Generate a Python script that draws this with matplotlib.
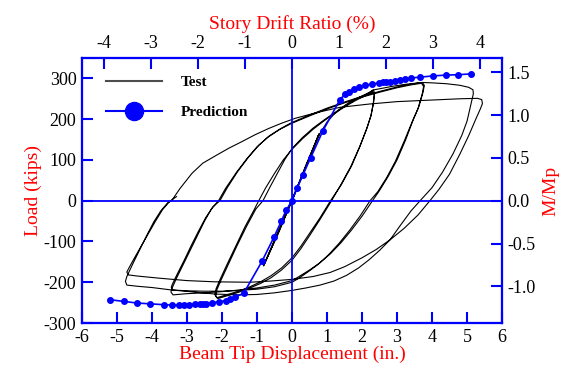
import matplotlib
matplotlib.use("Agg")
import matplotlib.pyplot as plt
from matplotlib.lines import Line2D

plt.rcParams['font.family'] = 'Liberation Serif'
plt.rcParams['axes.unicode_minus'] = False

# --- data: (beam tip displacement in., load kips) ---
elastic_disp = [0, 0.4, 0.75, 0.4, 0, -0.4, -0.8, -0.4, 0, 0.4, 0.78, 0.4, 0, -0.4, -0.82, -0.4, 0]
elastic_load = [0, 85, 160, 82, 2, -78, -158, -80, 0, 88, 165, 85, 4, -76, -160, -82, 0]

a1_disp = [0, 0.4, 0.8, 1.0, 1.2, 1.4, 1.6, 1.8, 2.0, 2.2, 2.32, 2.36,
           2.33, 2.26, 2.15, 1.95, 1.7, 1.4, 1.1, 0.8, 0.5, 0.25, 0, -0.3, -0.6, -0.9, -1.2,
           -1.5, -1.8, -2.0, -2.15, -2.2, -2.17,
           -2.05, -1.85, -1.6, -1.35, -1.1, -0.95, -0.75, -0.5, -0.25, 0, 0.3, 0.6, 0.9, 1.2,
           1.5, 1.8, 2.1, 2.3, 2.35]
a1_load = [0, 85, 165, 193, 212, 227, 239, 249, 257, 265, 272, 264,
           240, 210, 180, 135, 85, 38, 0, -42, -80, -112, -140, -165, -184, -199, -211,
           -221, -229, -234, -238, -231, -216,
           -192, -155, -110, -65, -25, 0, 32, 67, 100, 126, 152, 175, 195, 213,
           230, 245, 258, 267, 262]

a2_disp = [2.32, 2.25, 2.13, 1.93, 1.68, 1.4, 1.13, 0.8, 0.5, 0.25, 0, -0.3, -0.6, -0.9,
           -1.2, -1.5, -1.8, -2.0, -2.12, -2.18, -2.15,
           -2.03, -1.83, -1.58, -1.3, -1.03, -0.83, -0.62, -0.4, -0.2, 0, 0.3, 0.6, 0.9, 1.2,
           1.5, 1.8, 2.1, 2.35]
a2_load = [238, 207, 176, 132, 84, 40, 0, -46, -86, -118, -146, -170, -189, -203,
           -214, -224, -232, -237, -240, -233, -219,
           -195, -158, -112, -63, -20, 0, 35, 70, 102, 128, 155, 178, 197, 215,
           232, 247, 260, 272]

b1_disp = [2.6, 2.9, 3.2, 3.5, 3.72, 3.78,
           3.74, 3.62, 3.46, 3.25, 3.0, 2.75, 2.5, 2.3, 2.0, 1.7, 1.4, 1.1, 0.8, 0.5, 0.2, 0,
           -0.5, -1.0, -1.5, -2.0, -2.5, -3.0, -3.4, -3.46, -3.43,
           -3.3, -3.1, -2.9, -2.7, -2.5, -2.3, -2.1, -1.9, -1.6, -1.3, -1.0, -0.7, -0.35, 0,
           0.5, 1.0, 1.5, 2.0, 2.5, 3.0, 3.4, 3.7, 3.76]
b1_load = [276, 281, 285, 288, 290, 283,
           265, 230, 198, 150, 100, 60, 25, 0, -38, -72, -103, -130, -152, -170, -186, -196,
           -207, -214, -219, -223, -226, -228, -231, -224, -215,
           -190, -155, -120, -85, -50, -20, 0, 30, 68, 102, 132, 155, 175, 190,
           208, 225, 240, 254, 266, 277, 284, 288, 280]

b2_disp = [3.72, 3.6, 3.43, 3.2, 2.95, 2.7, 2.45, 2.23, 1.95, 1.65, 1.35, 1.05, 0.75, 0.45,
           0.2, 0, -0.5, -1.0, -1.5, -2.0, -2.5, -3.0, -3.42, -3.45, -3.42,
           -3.28, -3.08, -2.88, -2.68, -2.47, -2.26, -2.06, -1.85, -1.55, -1.25, -0.95, -0.65,
           -0.3, 0, 0.5, 1.0, 1.5, 2.0, 2.5, 3.0, 3.4, 3.72]
b2_load = [262, 226, 193, 145, 96, 56, 22, 0, -37, -72, -104, -132, -156, -175,
           -190, -200, -211, -217, -220, -222, -222, -221, -219, -212, -205,
           -180, -146, -110, -76, -42, -15, 0, 32, 72, 106, 136, 159, 178, 192,
           210, 227, 242, 256, 268, 279, 286, 290]

c_disp = [4.0, 4.4, 4.8, 5.05, 5.17, 5.18,
          5.12, 5.0, 4.85, 4.6, 4.3, 4.0, 3.66, 3.4, 3.1, 2.8, 2.5, 2.2, 1.9, 1.56, 1.2, 0.8,
          0.4, 0, -0.5, -1.0, -1.5, -2.2, -2.8, -3.44, -4.0, -4.4, -4.72, -4.76, -4.72,
          -4.55, -4.35, -4.15, -3.95, -3.75, -3.55, -3.44, -3.2, -2.86, -2.55, -2.19,
          -1.8, -1.43, -1.05, -0.67, -0.3, 0.09, 0.7, 1.37, 2.2, 3.0, 4.0, 4.8, 5.3, 5.42, 5.44]
c_load = [289, 287, 283, 278, 272, 262,
          240, 195, 160, 115, 70, 32, 0, -25, -60, -96, -122, -145, -165, -183, -197, -207,
          -214, -220, -226, -230, -231, -229, -224, -219, -213, -210, -207, -198, -186,
          -155, -120, -85, -52, -25, -5, 0, 30, 67, 92, 110,
          129, 145, 162, 177, 190, 202, 216, 229, 237, 243, 247, 250, 251, 248, 238]

d_disp = [5.38, 5.25, 5.05, 4.8, 4.5, 4.2, 3.94, 3.6, 3.2, 2.8, 2.4, 2.0, 1.5, 1.09, 0.6, 0,
          -0.6, -1.2, -2.2, -3.0, -3.8, -4.4, -4.68, -4.72, -4.66,
          -4.5, -4.3, -4.1, -3.9, -3.7, -3.5, -3.3]
d_load = [225, 200, 160, 115, 65, 28, 0, -35, -68, -96, -120, -140, -162, -176, -186, -193,
          -197, -200, -199, -196, -190, -185, -182, -175, -165,
          -140, -110, -80, -50, -22, -2, 10]

pred_disp = [-5.19, -4.81, -4.43, -4.05, -3.67, -3.43, -3.24, -3.1, -2.93, -2.76, -2.64, -2.54,
             -2.46, -2.29, -2.09, -1.9, -1.76, -1.62, -1.38, -0.86, -0.52, -0.31, -0.17, 0,
             0.15, 0.31, 0.53, 0.88, 1.37, 1.51, 1.64, 1.77, 1.91, 2.09, 2.28, 2.49, 2.59,
             2.68, 2.8, 2.94, 3.09, 3.23, 3.4, 3.66, 4.02, 4.39, 4.75, 5.11]
pred_load = [-243, -247, -251, -253, -255, -256, -256, -255, -255, -254, -254, -253,
             -253, -250, -248, -245, -241, -236, -227, -149, -90, -51, -24, 0,
             32, 63, 105, 171, 248, 261, 267, 273, 278, 283, 286, 289, 290,
             290, 291, 294, 296, 298, 301, 303, 306, 308, 309, 311]

MP = 210.0        # kips at M/Mp = 1
H_DRIFT = 1.343   # in. of tip displacement per 1 % drift

test_disp = elastic_disp + a1_disp + a2_disp + b1_disp + b2_disp + c_disp + d_disp
test_load = elastic_load + a1_load + a2_load + b1_load + b2_load + c_load + d_load

BLUE = '#0000ff'
RED = '#ff0000'

fig, ax = plt.subplots(figsize=(5.63, 3.72), dpi=100)
fig.subplots_adjust(left=0.1457, right=0.8917, bottom=0.1317, top=0.8441)

ax.plot(test_disp, test_load, color='black', lw=0.8)
ax.plot(pred_disp, pred_load, color=BLUE, lw=1.2, marker='o', ms=4)
ax.axhline(0, color=BLUE, lw=1.3)
ax.axvline(0, color=BLUE, lw=1.3)

ax.set_xlim(-6, 6)
ax.set_ylim(-300, 350)
ax.set_xticks(range(-6, 7))
ax.set_yticks(range(-300, 301, 100))
ax.set_xlabel('Beam Tip Displacement (in.)', color=RED, fontsize=14, labelpad=0)
ax.set_ylabel('Load (kips)', color=RED, fontsize=14, labelpad=1)

ax2 = ax.twinx()
ax2.set_ylim(-300 / MP, 350 / MP)
ax2.set_yticks([-1.0, -0.5, 0.0, 0.5, 1.0, 1.5])
ax2.set_yticklabels(['%.1f' % v for v in [-1.0, -0.5, 0.0, 0.5, 1.0, 1.5]])
ax2.set_ylabel('M/Mp', color=RED, fontsize=14, labelpad=5)

ax3 = ax.twiny()
ax3.set_xlim(-6 / H_DRIFT, 6 / H_DRIFT)
ax3.set_xticks(range(-4, 5))
ax3.set_xlabel('Story Drift Ratio (%)', color=RED, fontsize=14, labelpad=5)

for a in (ax, ax2, ax3):
    a.tick_params(direction='in', color=BLUE, length=8, width=1.5, labelsize=13, pad=4)
    for sp in a.spines.values():
        sp.set_color(BLUE)
        sp.set_linewidth(1.5)

handles = [Line2D([], [], color='0.3', lw=1.5),
           Line2D([], [], color=BLUE, lw=1.5, marker='o', ms=13)]
ax.legend(handles, ['Test', 'Prediction'], loc='upper left', bbox_to_anchor=(0.057, 0.935),
          frameon=False, borderpad=0, borderaxespad=0, handlelength=3.7, handletextpad=1.2,
          labelspacing=1.1, prop={'weight': 'bold', 'size': 11})

fig.savefig('out.png', dpi=100)
